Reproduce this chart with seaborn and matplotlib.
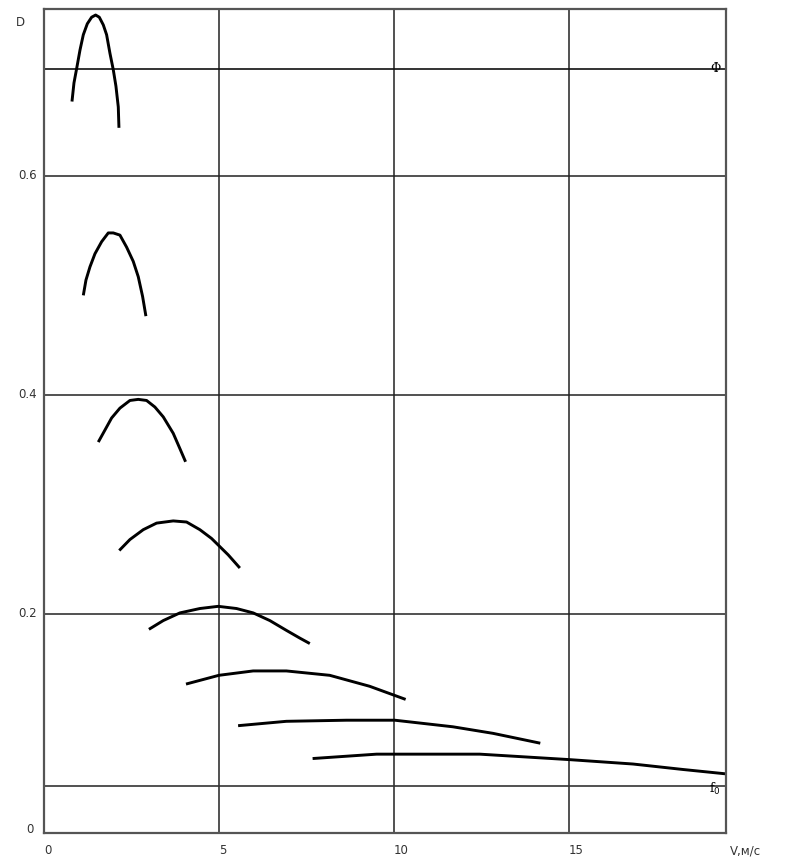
import numpy as np
import pandas as pd
import seaborn as sns
import matplotlib.pyplot as plt

# curves: V (m/s) vs D
v1 = [0.80, 0.857, 0.933, 1.029, 1.124, 1.238, 1.362, 1.476, 1.581, 1.695, 1.790, 1.886, 1.981, 2.057, 2.124, 2.143]
d1 = [0.668, 0.685, 0.698, 0.715, 0.729, 0.739, 0.745, 0.747, 0.745, 0.738, 0.729, 0.712, 0.697, 0.682, 0.663, 0.644]
v2 = [1.124, 1.20, 1.314, 1.457, 1.648, 1.838, 1.981, 2.171, 2.362, 2.552, 2.695, 2.819, 2.914]
d2 = [0.491, 0.505, 0.517, 0.529, 0.540, 0.548, 0.548, 0.546, 0.535, 0.522, 0.508, 0.490, 0.472]
v3 = [1.552, 1.743, 1.933, 2.171, 2.457, 2.695, 2.933, 3.171, 3.410, 3.695, 3.886, 4.048]
d3 = [0.357, 0.368, 0.379, 0.388, 0.395, 0.396, 0.395, 0.389, 0.380, 0.365, 0.351, 0.339]
v4 = [2.152, 2.457, 2.838, 3.219, 3.695, 4.076, 4.457, 4.790, 4.981, 5.267, 5.60]
d4 = [0.258, 0.268, 0.277, 0.283, 0.285, 0.284, 0.277, 0.269, 0.263, 0.254, 0.242]
v5 = [3.00, 3.410, 3.886, 4.457, 4.981, 5.505, 5.981, 6.457, 6.933, 7.314, 7.60]
d5 = [0.186, 0.194, 0.201, 0.205, 0.207, 0.205, 0.201, 0.194, 0.185, 0.178, 0.173]
v6 = [4.06, 5.00, 5.98, 6.93, 8.17, 9.31, 10.34]
d6 = [0.136, 0.144, 0.148, 0.148, 0.144, 0.134, 0.122]
v7 = [5.55, 6.93, 8.65, 10.03, 11.69, 12.84, 14.19]
d7 = [0.098, 0.102, 0.103, 0.103, 0.097, 0.091, 0.082]
v8 = [7.68, 9.51, 12.46, 15.03, 16.84, 18.27, 19.50]
d8 = [0.068, 0.072, 0.072, 0.067, 0.063, 0.058, 0.054]

phi_level = 0.698
f0_level = 0.043
x_ticks = [0, 5, 10, 15]
y_ticks = [0.2, 0.4, 0.6]

frames = []
for i, (v, d) in enumerate([(v1, d1), (v2, d2), (v3, d3), (v4, d4),
                            (v5, d5), (v6, d6), (v7, d7), (v8, d8)]):
    frames.append(pd.DataFrame({'V': v, 'D': d, 'curve': i}))
df = pd.concat(frames, ignore_index=True)

sns.set_style('white')
plt.rcParams['font.family'] = ['DejaVu Sans']

fig = plt.figure(figsize=(7.94, 8.57), dpi=100)
ax = fig.add_axes([44 / 794, 24 / 857, 682 / 794, 824 / 857])

sns.lineplot(data=df, x='V', y='D', units='curve', estimator=None, sort=False,
             color='black', linewidth=2.1, ax=ax, legend=False,
             solid_joinstyle='round', solid_capstyle='butt')

ax.set_xlim(0, 19.5)
ax.set_ylim(0, 0.7525)

# grid and level lines
for xv in x_ticks[1:]:
    ax.axvline(xv, color='#222222', lw=1.1, zorder=0)
for yv in y_ticks:
    ax.axhline(yv, color='#222222', lw=1.1, zorder=0)
ax.axhline(phi_level, color='#111111', lw=1.2, zorder=0)
ax.axhline(f0_level, color='#333333', lw=1.2, zorder=0)

for s in ax.spines.values():
    s.set_color('#555555')
    s.set_linewidth(1.6)

ax.set_xticks([])
ax.set_yticks([])
ax.set_xlabel('')
ax.set_ylabel('')

fs = 8.5
for xv in x_ticks:
    ax.text(xv, -0.016, str(xv), ha='left', va='center', fontsize=fs, color='#333333')
for yv in y_ticks:
    ax.text(-0.2, yv, str(yv), ha='right', va='center', fontsize=fs, color='#333333')
ax.text(-0.3, 0.003, '0', ha='right', va='center', fontsize=fs, color='#333333')
ax.text(-0.55, 0.740, 'D', ha='right', va='center', fontsize=fs, color='#333333')
ax.text(19.6, -0.016, 'V,м/с', ha='left', va='center', fontsize=fs, color='#333333',
        clip_on=False)

ax.text(19.2, phi_level, 'Φ', ha='center', va='center', fontsize=9, color='black',
        family='DejaVu Serif')
ax.text(19.35, f0_level - 0.003, r'f$_0$', ha='right', va='center', fontsize=9,
        color='black', family='DejaVu Serif')

fig.savefig('out.png', dpi=100, facecolor='white')
